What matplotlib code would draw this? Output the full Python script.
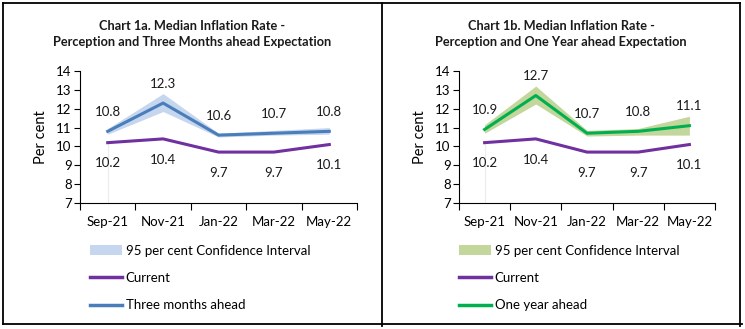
import matplotlib.pyplot as plt
from matplotlib.patches import Patch
from matplotlib.lines import Line2D
import numpy as np

months = ["Sep-21", "Nov-21", "Jan-22", "Mar-22", "May-22"]
current = [10.2, 10.4, 9.7, 9.7, 10.1]
three_month = [10.8, 12.3, 10.6, 10.7, 10.8]
three_lo = [10.65, 11.85, 10.5, 10.6, 10.65]
three_hi = [10.95, 12.8, 10.7, 10.85, 11.0]
one_year = [10.9, 12.7, 10.7, 10.8, 11.1]
one_lo = [10.7, 12.25, 10.55, 10.6, 10.6]
one_hi = [11.15, 13.2, 10.85, 10.95, 11.6]

plt.rcParams["font.family"] = ["Lato", "DejaVu Sans"]

W, H = 745, 329
fig = plt.figure(figsize=(W / 100, H / 100), dpi=100)

purple = "#7030a0"


def px(x0, y_top, x1, y_bot):
    return [x0 / W, 1 - y_bot / H, (x1 - x0) / W, (y_bot - y_top) / H]


def panel(rect, title, tx, ahead, lo, hi, col, fill, name, lx):
    ax = fig.add_axes(rect)
    x = np.arange(len(months)) + 0.5
    ax.plot([x[0], x[0]], [7, current[0]], color="#ececec", lw=0.8, zorder=1)
    ax.fill_between(x, lo, hi, color=fill, lw=0, zorder=2)
    ax.plot(x, current, color=purple, lw=2.2, zorder=3)
    ax.plot(x, ahead, color=col, lw=2.2, zorder=4)
    for xi, v in zip(x, ahead):
        ax.annotate(f"{v:.1f}", (xi, v), xytext=(0, 14), textcoords="offset points",
                    ha="center", va="center", fontsize=9.5, color="#1a1a1a")
    for xi, v in zip(x, current):
        ax.annotate(f"{v:.1f}", (xi, v), xytext=(0, -15), textcoords="offset points",
                    ha="center", va="center", fontsize=9.5, color="#1a1a1a")
    ax.set_xlim(0, 5)
    ax.set_ylim(7, 14)
    ax.set_yticks(range(7, 15))
    ax.set_xticks(range(6))
    ax.set_xticklabels([])
    ax.set_xticks(x, minor=True)
    ax.set_xticklabels(months, minor=True, fontsize=9.5)
    ax.tick_params(axis="x", which="minor", length=0, pad=9)
    ax.tick_params(axis="x", which="major", length=5, direction="out")
    ax.tick_params(axis="y", length=4, labelsize=9.5, pad=2)
    for s in ["top", "right"]:
        ax.spines[s].set_visible(False)
    ax.set_ylabel("Per cent", fontsize=10.5, labelpad=6)
    fig.text(tx / W, 1 - 34 / H, title, ha="center", va="center",
             fontsize=9.2, fontweight="bold", linespacing=1.45, color="#1a1a1a")
    handles = [Patch(facecolor=fill, edgecolor="none"),
               Line2D([], [], color=purple, lw=2.5),
               Line2D([], [], color=col, lw=2.5)]
    labels = ["95 per cent Confidence Interval", "Current", name]
    fig.legend(handles, labels, loc="upper left", bbox_to_anchor=(lx / W, 1 - 245 / H),
               bbox_transform=fig.transFigure, frameon=False, fontsize=9.5,
               handlelength=2.4, handleheight=0.8, handletextpad=0.3,
               labelspacing=1.15, borderpad=0, borderaxespad=0)
    return ax


panel(px(80, 71, 357, 203),
      "Chart 1a. Median Inflation Rate -\nPerception and Three Months ahead Expectation",
      192, three_month, three_lo, three_hi, "#4a7ebb", "#c6d6ee", "Three months ahead", 90)
panel(px(459, 71, 715, 203),
      "Chart 1b. Median Inflation Rate -\nPerception and One Year ahead Expectation",
      561, one_year, one_lo, one_hi, "#00b050", "#c3d69b", "One year ahead", 459)

# outer frame and divider
frame = dict(color="black", lw=1.3, transform=fig.transFigure)
fig.add_artist(Line2D([3 / W, 740 / W], [1 - 3 / H, 1 - 3 / H], **frame))
fig.add_artist(Line2D([3 / W, 742 / W], [1 - 324 / H, 1 - 324 / H], **frame))
fig.add_artist(Line2D([3 / W, 3 / W], [1 - 3 / H, 1 - 324 / H], **frame))
fig.add_artist(Line2D([740 / W, 740 / W], [1 - 3 / H, 1 - 326 / H], **frame))
fig.add_artist(Line2D([382 / W, 382 / W], [1 - 3 / H, 1 - 326 / H], **frame))

fig.savefig("out.png", dpi=100)
